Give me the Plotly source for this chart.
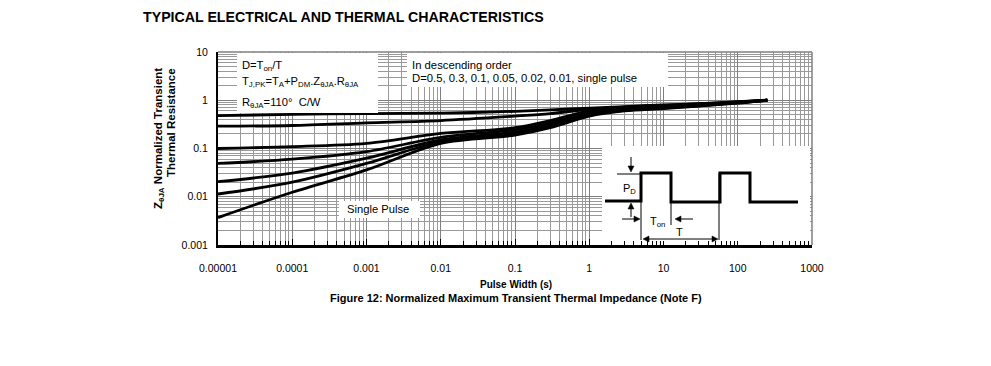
import plotly.graph_objects as go

# ---------------- data ----------------
pulse_width = [1e-5, 1e-4, 1e-3, 1e-2, 0.1, 0.3, 1, 3, 10, 30, 100, 250]

z_d050 = [0.48, 0.51, 0.53, 0.54, 0.59, 0.63, 0.69, 0.74, 0.80, 0.85, 0.93, 1.0]
z_d030 = [0.29, 0.30, 0.34, 0.38, 0.47, 0.53, 0.65, 0.72, 0.78, 0.84, 0.92, 1.0]
z_d010 = [0.10, 0.109, 0.128, 0.205, 0.27, 0.38, 0.60, 0.68, 0.75, 0.82, 0.91, 1.0]
z_d005 = [0.049, 0.060, 0.086, 0.17, 0.245, 0.34, 0.56, 0.65, 0.72, 0.80, 0.90, 1.0]
z_d002 = [0.0205, 0.031, 0.063, 0.15, 0.22, 0.31, 0.52, 0.63, 0.70, 0.78, 0.89, 1.0]
z_d001 = [0.0114, 0.020, 0.049, 0.138, 0.205, 0.29, 0.50, 0.62, 0.69, 0.77, 0.88, 1.0]
z_single = [0.0037, 0.0124, 0.036, 0.128, 0.19, 0.27, 0.47, 0.60, 0.67, 0.76, 0.87, 1.0]

series_names = ["D=0.5", "D=0.3", "D=0.1", "D=0.05", "D=0.02", "D=0.01", "Single Pulse"]
series_values = [z_d050, z_d030, z_d010, z_d005, z_d002, z_d001, z_single]

x_tick_vals = [1e-5, 1e-4, 1e-3, 1e-2, 0.1, 1, 10, 100, 1000]
x_tick_text = ["0.00001", "0.0001", "0.001", "0.01", "0.1", "1", "10", "100", "1000"]
y_tick_vals = [0.001, 0.01, 0.1, 1, 10]
y_tick_text = ["0.001", "0.01", "0.1", "1", "10"]

# ---------------- layout helpers ----------------
OFF = 8                       # page body margin
W, H = 991 - 2 * OFF, 366 - 2 * OFF
L, R, T, B = 218, 812, 52, 245   # plot-area bounds in page pixels
FONT = "Liberation Sans, Arial, sans-serif"


def fx(p):
    return (p - L) / (R - L)


def fy(p):
    return (B - p) / (B - T)


fig = go.Figure()
for name, vals in zip(series_names, series_values):
    fig.add_trace(go.Scatter(
        x=pulse_width, y=vals, name=name, mode="lines",
        line=dict(color="black", width=2.8, shape="spline", smoothing=0.9),
        showlegend=False, hoverinfo="x+y+name",
    ))

grid_major = "#7f7f7f"
grid_minor = "#999999"

fig.update_layout(
    width=W, height=H,
    margin=dict(l=L - OFF, r=W - (R - OFF), t=T - OFF, b=H - (B - OFF), pad=0),
    paper_bgcolor="white", plot_bgcolor="white",
    font=dict(family=FONT, size=11, color="black"),
    showlegend=False,
)
fig.update_xaxes(
    type="log", range=[-5, 3],
    tickmode="array", tickvals=x_tick_vals, ticktext=x_tick_text,
    tickfont=dict(size=10.5, family=FONT, color="black"),
    ticks="inside", ticklen=6, tickcolor="black", tickwidth=1,
    ticklabelstandoff=12,
    showgrid=True, gridcolor=grid_major, gridwidth=1.3,
    minor=dict(dtick="D1", showgrid=True, gridcolor=grid_minor, gridwidth=1,
               ticks="inside", ticklen=4, tickcolor="black"),
    showline=True, linecolor="black", linewidth=2.5, mirror=False,
    zeroline=False,
)
fig.update_yaxes(
    type="log", range=[-3, 1],
    tickmode="array", tickvals=y_tick_vals, ticktext=y_tick_text,
    tickfont=dict(size=10.5, family=FONT, color="black"),
    ticks="", ticklabelstandoff=6,
    showgrid=True, gridcolor=grid_major, gridwidth=1.3,
    minor=dict(dtick="D1", showgrid=True, gridcolor=grid_minor, gridwidth=1),
    showline=True, linecolor="black", linewidth=2, mirror=False,
    zeroline=False,
)

shapes = []
# top and right grey frame lines
shapes.append(dict(type="line", xref="paper", yref="paper", x0=0, x1=1, y0=1, y1=1,
                   line=dict(color=grid_major, width=1.5), layer="above"))
shapes.append(dict(type="line", xref="paper", yref="paper", x0=1, x1=1, y0=0, y1=1,
                   line=dict(color=grid_major, width=1.5), layer="above"))


def white_box(x0, y0, x1, y1):
    shapes.append(dict(type="rect", xref="paper", yref="paper",
                       x0=fx(x0), x1=fx(x1), y0=fy(y1), y1=fy(y0),
                       fillcolor="white", line=dict(width=0), layer="above"))


white_box(237, 53, 378, 113)     # formula box
white_box(407, 53, 668, 87)      # order box
white_box(339, 201, 420, 218)    # single pulse label
white_box(602, 146, 810, 241)    # waveform inset


def seg(x0, y0, x1, y1, w=1):
    shapes.append(dict(type="line", xref="paper", yref="paper",
                       x0=fx(x0), y0=fy(y0), x1=fx(x1), y1=fy(y1),
                       line=dict(color="black", width=w), layer="above"))


def head(x, y, direction):
    # small filled arrow head, tip at (x, y)
    s, h = 3, 6
    if direction == "down":
        pts = [(x, y), (x - s, y - h), (x + s, y - h)]
    elif direction == "up":
        pts = [(x, y), (x - s, y + h), (x + s, y + h)]
    elif direction == "right":
        pts = [(x, y), (x - h, y - s), (x - h, y + s)]
    else:
        pts = [(x, y), (x + h, y - s), (x + h, y + s)]
    p = "M " + " L ".join(f"{fx(a):.5f},{fy(b):.5f}" for a, b in pts) + " Z"
    shapes.append(dict(type="path", xref="paper", yref="paper", path=p,
                       fillcolor="black", line=dict(color="black", width=0.5), layer="above"))


# pulse waveform
wave = [(605, 201), (641, 201), (641, 173), (671, 173), (671, 202), (720, 202),
        (720, 173), (750, 173), (750, 202), (798, 202)]
path = "M " + " L ".join(f"{fx(a):.5f},{fy(b):.5f}" for a, b in wave)
shapes.append(dict(type="path", xref="paper", yref="paper", path=path,
                   line=dict(color="black", width=3), layer="above"))
seg(617, 174, 641, 174)
seg(641, 201, 641, 240)
seg(671, 202, 671, 225)
seg(719, 173, 719, 240)
# arrows
seg(631, 157, 631, 168)
head(631, 172, "down")
seg(631, 207, 631, 217)
head(631, 203, "up")
seg(622, 219, 636, 219)
head(640, 219, "right")
seg(679, 219, 693, 219)
head(675, 219, "left")
seg(647, 239, 714, 239)
head(643, 239, "left")
head(718, 239, "right")

fig.update_layout(shapes=shapes)

ann = []


def text(x, y, s, size=11, bold=False, xanchor="left", angle=0):
    ann.append(dict(x=fx(x), y=fy(y), xref="paper", yref="paper", text=(f"<b>{s}</b>" if bold else s),
                    showarrow=False, xanchor=xanchor, yanchor="middle", textangle=angle,
                    font=dict(family=FONT, size=size, color="black")))


text(141, 17, "TYPICAL ELECTRICAL AND THERMAL CHARACTERISTICS", size=14.2, bold=True)
text(240, 66, "D=T<sub>on</sub>/T", size=11.2)
text(240, 82, "T<sub>J,PK</sub>=T<sub>A</sub>+P<sub>DM</sub>.Z<sub>θJA</sub>.R<sub>θJA</sub>", size=11.2)
text(240, 103, "R<sub>θJA</sub>=110°  C/W", size=11.2)
text(410, 65, "In descending order", size=11.3)
text(410, 78, "D=0.5, 0.3, 0.1, 0.05, 0.02, 0.01, single pulse", size=11.3)
text(345, 209, "Single Pulse", size=11.2)
text(629, 189, "P<sub>D</sub>", xanchor="center")
text(657, 222, "T<sub>on</sub>", xanchor="center")
text(679, 232, "T", xanchor="center")

text(516, 284, "Pulse Width (s)", size=10, bold=True, xanchor="center")
text(516, 298, "Figure 12: Normalized Maximum Transient Thermal Impedance (Note F)", size=11,
     bold=True, xanchor="center")
text(159, 139, "Z<sub>θJA</sub> Normalized Transient", size=11.5, bold=True, xanchor="center", angle=-90)
text(171, 123, "Thermal Resistance", size=11.5, bold=True, xanchor="center", angle=-90)

fig.update_layout(annotations=ann)

fig.write_html("out.html")
